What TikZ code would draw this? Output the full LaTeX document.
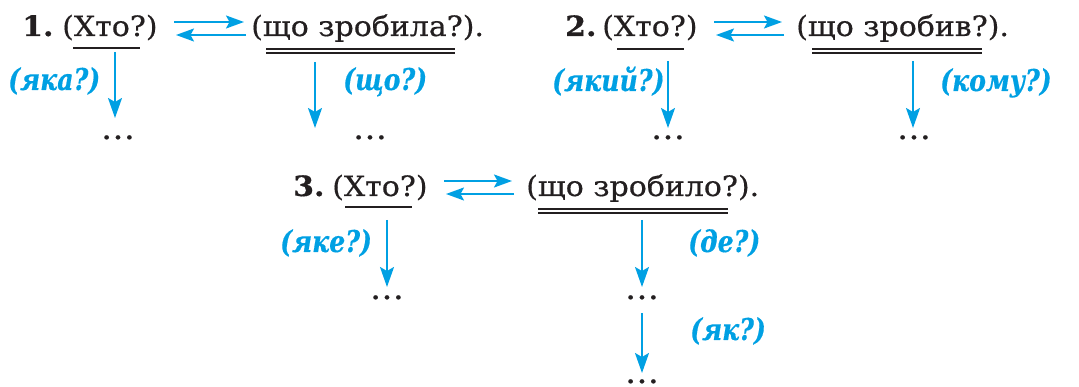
\documentclass[tikz,border=0pt]{standalone}
\usepackage{fontspec}
\setmainfont{DejaVu Serif}[FakeStretch=1.07, FakeBold=0.5]
\newfontfamily\qfont{DejaVu Serif}[FakeStretch=0.84, FakeBold=0.4]
\usetikzlibrary{arrows.meta}
\definecolor{qblue}{RGB}{0,160,227}
\definecolor{ink}{RGB}{35,31,32}
\begin{document}
\begin{tikzpicture}[x=1pt, y=-1pt,
  every node/.style={inner sep=0pt, text=ink, font=\fontsize{28}{32}\selectfont},
  txt/.style={anchor=base west},
  num/.style={anchor=base west, font=\fontsize{28}{32}\selectfont\bfseries},
  qst/.style={anchor=base west, text=qblue, font=\fontsize{30}{32}\selectfont\qfont\bfseries\itshape},
  dts/.style={anchor=base, text depth=0pt, font=\fontsize{32}{32}\selectfont},
  dn/.style={-{Stealth[length=20pt, width=14pt, inset=4pt]}, qblue, line width=2pt},
  hz/.style={-{Stealth[length=18pt, width=13pt, inset=3.5pt]}, qblue, line width=2pt},
  ul/.style={line width=1.4pt, ink}]
  \useasboundingbox (0,0) rectangle (1079,387);
  % sentence 1
  \node[num] (n1) at (22,36) {1.};
  \node[txt] (s1) at (62,36) {(Хто?)};
  \node[txt] (p1) at (251,36) {(що зробила?).};
  \draw[ul] (73,48) -- (140,48);
  \draw[ul] (266,49) -- (455,49) (266,53) -- (455,53);
  \coordinate (a1) at (174,22); \coordinate (b1) at (244,22);
  \coordinate (c1) at (246,35); \coordinate (d1) at (176,35);
  \draw[hz] (a1) -- (b1); \draw[hz] (c1) -- (d1);
  \node[dts] (e1) at (118,139) {…};
  \node[dts] (f1) at (370,139) {…};
  \coordinate (g1) at (115,52); \coordinate (h1) at (315,62);
  \draw[dn] (g1) -- (115,118);
  \draw[dn] (h1) -- (315,128);
  \node[qst] (q1) at (8,90) {(яка?)};
  \node[qst] (r1) at (343,90) {(що?)};
  % sentence 2
  \node[num] (n2) at (565,36) {2.};
  \node[txt] (s2) at (602,36) {(Хто?)};
  \node[txt] (p2) at (796,36) {(що зробив?).};
  \draw[ul] (617,49) -- (684,49);
  \draw[ul] (812,49) -- (982,49) (812,53) -- (982,53);
  \coordinate (a2) at (714,22); \coordinate (b2) at (782,22);
  \coordinate (c2) at (784,35); \coordinate (d2) at (716,35);
  \draw[hz] (a2) -- (b2); \draw[hz] (c2) -- (d2);
  \node[dts] (e2) at (668,139) {…};
  \node[dts] (f2) at (914,139) {…};
  \coordinate (g2) at (668,61); \coordinate (h2) at (913,61);
  \draw[dn] (g2) -- (668,128);
  \draw[dn] (h2) -- (913,128);
  \node[qst] (q2) at (552,91) {(який?)};
  \node[qst] (r2) at (940,91) {(кому?)};
  % sentence 3
  \node[num] (n3) at (293,196) {3.};
  \node[txt] (s3) at (332,196) {(Хто?)};
  \node[txt] (p3) at (526,196) {(що зробило?).};
  \draw[ul] (345,207) -- (412,207);
  \draw[ul] (538,209) -- (728,209) (538,213) -- (728,213);
  \coordinate (a3) at (444,181); \coordinate (b3) at (512,181);
  \coordinate (c3) at (514,194); \coordinate (d3) at (446,194);
  \draw[hz] (a3) -- (b3); \draw[hz] (c3) -- (d3);
  \node[dts] (e3) at (387,299) {…};
  \node[dts] (f3) at (642,299) {…};
  \node[dts] (k3) at (642,383) {…};
  \coordinate (g3) at (387,220); \coordinate (h3) at (642,220);
  \coordinate (m3) at (642,313);
  \draw[dn] (g3) -- (387,287);
  \draw[dn] (h3) -- (642,287);
  \draw[dn] (m3) -- (642,373);
  \node[qst] (q3) at (280,252) {(яке?)};
  \node[qst] (r3) at (688,252) {(де?)};
  \node[qst] (t3) at (690,340) {(як?)};
\end{tikzpicture}
\end{document}
